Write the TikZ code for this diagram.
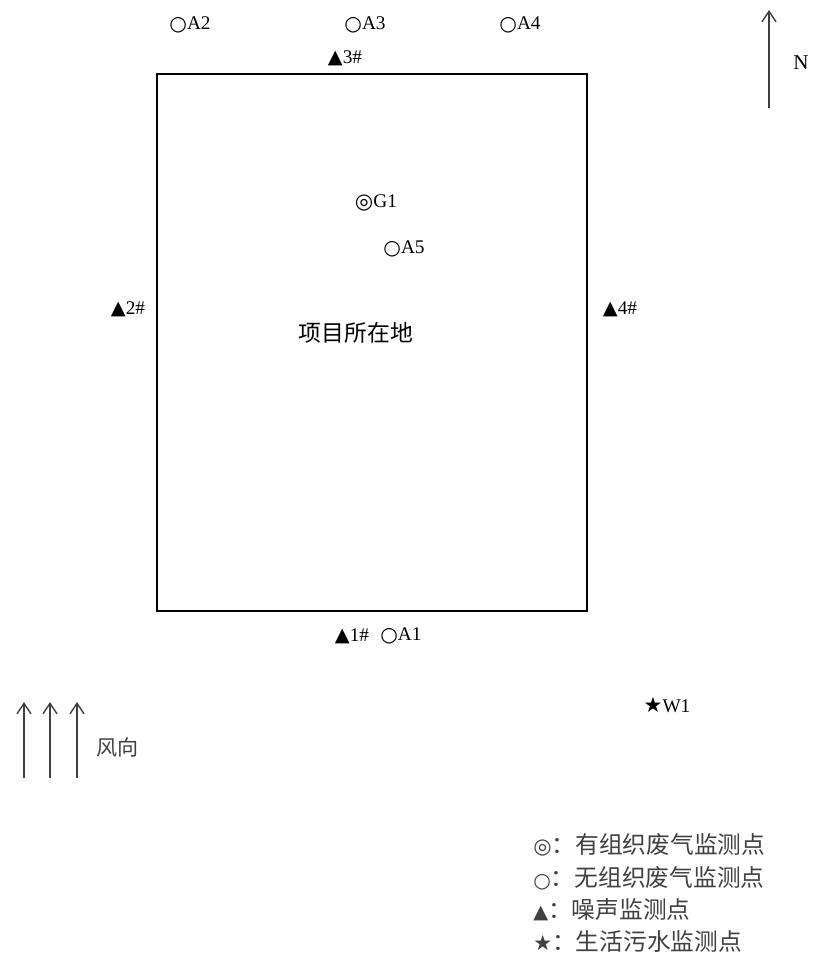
\documentclass[tikz,border=0pt]{standalone}
\usepackage{fontspec}
\setmainfont{Liberation Serif}
\newfontfamily\cjk{Noto Sans CJK SC}
\newfontfamily\sym{DejaVu Sans}
\usetikzlibrary{positioning,arrows.meta}

\tikzset{
  lbl/.style={inner sep=0pt, font=\fontsize{11}{13}\selectfont},
  zh/.style={inner sep=0pt, font=\fontsize{13}{15}\selectfont\cjk},
  leg/.style={inner sep=0pt, anchor=west, font=\fontsize{13.5}{15}\selectfont\cjk, text=black!75},
  dir/.style={-{Straight Barb[length=6pt,width=8pt]}, line width=0.8pt, black!75},
}
\newcommand{\ci}{\raisebox{-0.3pt}{\sym\fontsize{11.5}{12}\selectfont ○}}
\newcommand{\dci}{\raisebox{-0.3pt}{\sym\fontsize{12}{12}\selectfont\bfseries ◎}}
\newcommand{\tri}{{\sym\fontsize{11}{12}\selectfont ▲}}
\newcommand{\sta}{{\sym\fontsize{12}{12}\selectfont ★}}

\begin{document}
\begin{tikzpicture}[x=0.02cm, y=-0.02cm]
		\useasboundingbox (0,0) rectangle (821,957);
		% site boundary
		\draw[line width=0.9pt] (157,74) rectangle (587,611);
		\node[zh] (site) at (356,333) {项目所在地};
		% monitoring points
		\node[lbl] (a2) at (190,25) {\ci A2};
		\node[lbl] (a3) at (365,25) {\ci A3};
		\node[lbl] (a4) at (520,25) {\ci A4};
		\node[lbl] (n3) at (345,58) {\tri 3\#};
		\node[lbl] (g1) at (376,203) {\dci G1};
		\node[lbl] (a5) at (404,249) {\ci A5};
		\node[lbl] (n2) at (128,309) {\tri 2\#};
		\node[lbl] (n4) at (620,309) {\tri 4\#};
		\node[lbl] (n1) at (352,636) {\tri 1\#};
		\node[lbl, right=6pt of n1] (a1) {\ci A1};
		\node[lbl] (w1) at (667,705) {\sta W1};
		% north
		\coordinate (ns) at (769,108);
		\coordinate (ne) at (769,10);
		\draw[dir] (ns)--(ne);
		\node[lbl, font=\fontsize{12}{14}\selectfont] (north) at (801,63) {N};
		% wind
		\foreach \x [count=\i] in {24,50,77}{
			\coordinate (ws\i) at (\x,778);
			\coordinate (we\i) at (\x,702);
			\draw[dir] (ws\i)--(we\i);
		}
		\node[zh, anchor=west, font=\fontsize{12}{14}\selectfont\cjk, text=black!75] (wind) at (96,747) {风向};
		% legend
		\node[leg] (l1) at (533,845) {\dci：有组织废气监测点};
		\node[leg] (l2) at (533,878) {\ci：无组织废气监测点};
		\node[leg] (l3) at (533,910) {\tri：噪声监测点};
		\node[leg] (l4) at (533,941) {\sta：生活污水监测点};
\end{tikzpicture}
\end{document}
